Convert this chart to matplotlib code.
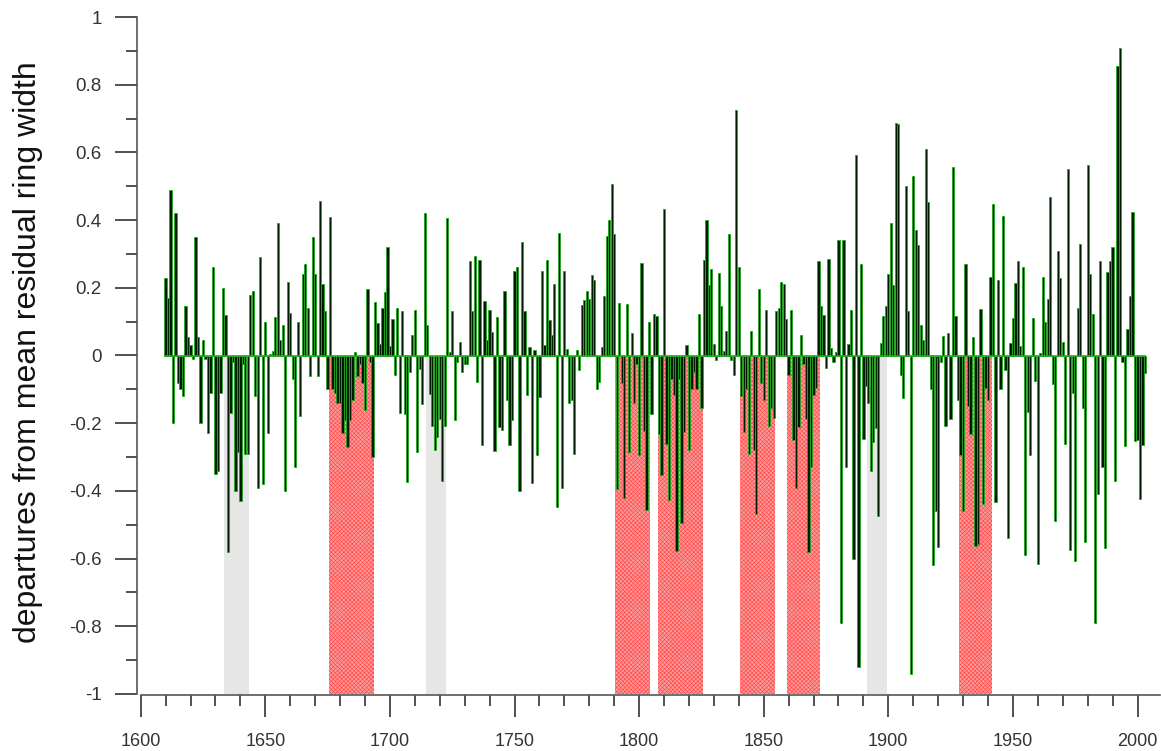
import matplotlib
matplotlib.use("Agg")
import matplotlib.pyplot as plt
from matplotlib.ticker import MultipleLocator, FuncFormatter

plt.rcParams['font.family'] = ['Liberation Sans', 'DejaVu Sans']
plt.rcParams['hatch.linewidth'] = 0.45

# ---- data -------------------------------------------------------------
first_year = 1610
values = [
    # 1610-1619
    0.23, 0.17, 0.49, -0.20, 0.42, -0.08, -0.10, -0.12, 0.145, 0.056,
    # 1620-1629
    0.03, -0.01, 0.35, 0.056, -0.20, 0.047, -0.01, -0.23, -0.11, 0.26,
    # 1630-1639
    -0.35, -0.34, -0.11, 0.20, 0.12, -0.58, -0.17, -0.02, -0.40, -0.285,
    # 1640-1649
    -0.43, -0.025, -0.29, -0.29, 0.18, 0.19, -0.12, -0.39, 0.29, -0.38,
    # 1650-1659
    0.10, -0.23, 0.005, 0.014, 0.115, 0.39, 0.047, 0.09, -0.40, 0.216,
    # 1660-1669
    0.125, -0.07, -0.33, 0.10, -0.18, 0.24, 0.27, 0.14, -0.06, 0.35,
    # 1670-1679
    0.24, -0.06, 0.456, 0.21, 0.13, -0.10, 0.41, -0.10, -0.11, -0.14,
    # 1680-1689
    -0.14, -0.23, -0.19, -0.27, -0.19, -0.13, 0.01, -0.06, -0.025, -0.08,
    # 1690-1699
    -0.16, 0.196, -0.02, -0.30, 0.157, 0.096, 0.034, 0.14, 0.187, 0.32,
    # 1700-1709
    0.027, 0.108, -0.057, 0.14, -0.17, 0.13, -0.174, -0.373, -0.048, 0.062,
    # 1710-1719
    0.133, -0.286, -0.04, -0.144, 0.42, 0.09, -0.113, -0.208, -0.278, -0.24,
    # 1720-1729
    -0.187, -0.37, -0.207, 0.405, 0.01, 0.13, -0.19, -0.02, 0.04, -0.05,
    # 1730-1739
    -0.025, -0.026, 0.28, 0.13, 0.294, -0.077, 0.283, -0.263, 0.16, 0.047,
    # 1740-1749
    0.135, 0.069, -0.282, 0.114, -0.21, -0.22, 0.19, -0.13, -0.265, -0.19,
    # 1750-1759
    0.25, 0.26, -0.40, 0.335, 0.13, -0.117, 0.026, -0.376, 0.017, -0.294,
    # 1760-1769
    -0.122, 0.25, 0.03, 0.283, 0.104, 0.06, 0.21, -0.447, 0.363, -0.39,
    # 1770-1779
    0.25, 0.02, -0.14, -0.13, -0.29, 0.017, -0.044, 0.15, 0.164, 0.19,
    # 1780-1789
    0.168, 0.237, 0.222, -0.10, -0.077, 0.026, 0.177, 0.352, 0.40, 0.506,
    # 1790-1799
    0.36, -0.395, 0.155, -0.08, -0.42, 0.153, -0.285, 0.066, -0.14, -0.025,
    # 1800-1809
    -0.294, 0.274, -0.224, -0.456, 0.10, -0.174, 0.122, 0.118, -0.233, -0.354,
    # 1810-1819
    0.434, -0.26, -0.428, -0.07, -0.116, -0.577, -0.07, -0.495, -0.226, 0.03,
    # 1820-1829
    -0.278, -0.10, -0.05, -0.10, 0.122, -0.155, 0.283, 0.40, 0.207, 0.257,
    # 1830-1839
    0.034, -0.012, 0.244, 0.147, 0.014, 0.073, 0.36, -0.012, -0.057, 0.726,
    # 1840-1849
    0.26, -0.12, -0.226, -0.10, -0.29, 0.073, -0.278, -0.467, 0.195, -0.08,
    # 1850-1859
    -0.13, 0.135, -0.208, -0.155, -0.185, 0.13, 0.14, 0.216, 0.21, 0.108,
    # 1860-1869
    -0.057, 0.135, -0.25, -0.39, -0.21, 0.062, -0.025, -0.187, -0.58, -0.33,
    # 1870-1879
    -0.116, -0.096, 0.28, 0.147, 0.12, -0.038, 0.286, 0.023, -0.018, 0.01,
    # 1880-1889
    0.34, -0.79, 0.34, -0.33, 0.034, 0.135, -0.60, 0.593, -0.92, 0.27,
    # 1890-1899
    -0.248, -0.09, -0.14, -0.34, -0.256, -0.213, -0.473, 0.036, 0.116, 0.147,
    # 1900-1909
    0.242, 0.39, 0.207, 0.688, 0.685, -0.057, -0.125, 0.50, 0.13, -0.94,
    # 1910-1919
    0.53, 0.37, 0.326, 0.09, 0.047, 0.61, 0.454, -0.10, -0.62, -0.46,
    # 1920-1929
    -0.567, -0.02, 0.058, -0.207, 0.066, -0.187, 0.558, 0.116, -0.13, -0.294,
    # 1930-1939
    -0.46, 0.27, -0.148, -0.233, 0.056, -0.564, -0.558, 0.138, -0.438, -0.096,
    # 1940-1949
    -0.13, 0.233, 0.447, -0.434, 0.222, -0.10, 0.413, -0.044, -0.54, 0.036,
    # 1950-1959
    0.112, 0.213, 0.278, 0.027, 0.26, -0.59, -0.168, -0.295, 0.112, -0.074,
    # 1960-1969
    -0.616, 0.008, 0.231, 0.10, 0.166, 0.467, -0.083, -0.49, 0.31, 0.229,
    # 1970-1979
    0.04, -0.26, 0.55, -0.576, -0.11, -0.608, 0.14, 0.33, -0.155, -0.55,
    # 1980-1989
    0.564, 0.242, 0.122, -0.79, -0.41, 0.28, -0.33, -0.57, 0.248, 0.278,
    # 1990-1999
    0.32, -0.37, 0.856, 0.908, -0.02, -0.268, 0.077, 0.177, 0.424, -0.252,
    # 2000-2003
    -0.25, -0.424, -0.263, -0.052,
]
years = list(range(first_year, first_year + len(values)))

red_periods = [(1676, 1693), (1791, 1804), (1808, 1825),
               (1841, 1854), (1860, 1872), (1929, 1941)]
gray_periods = [(1634, 1643), (1715, 1722), (1892, 1899)]

y_label = "departures from mean residual ring width"

# ---- figure -----------------------------------------------------------
W, H = 1161, 751
fig = plt.figure(figsize=(W / 100, H / 100), dpi=100)
ax = fig.add_axes([140.7 / W, 1 - 694 / H, (1160 - 140.7) / W, (694 - 17) / H])

for s, e in gray_periods:
    ax.axvspan(s - 0.5, e + 0.5, ymin=0, ymax=0.5, facecolor='#e6e6e6',
               edgecolor='none', lw=0, zorder=1)
for s, e in red_periods:
    ax.axvspan(s - 0.5, e + 0.5, ymin=0, ymax=0.5, facecolor='#ff9a9a',
               edgecolor='#ff4a4a', hatch='xxxxxxxx', lw=0, zorder=1)

ax.bar(years, values, width=0.9, color='#001c00', edgecolor='#22a822',
       linewidth=0.6, zorder=3)
ax.plot([years[0] - 0.5, years[-1] + 0.5], [0, 0], color='#22a822',
        lw=1.2, zorder=4, solid_capstyle='butt')

ax.set_xlim(1600, 1600 + (1160 - 140.7) / 2.492)
ax.set_ylim(-1, 1)

for side in ('top', 'right'):
    ax.spines[side].set_visible(False)
for side in ('left', 'bottom'):
    ax.spines[side].set_color('#555555')
    ax.spines[side].set_linewidth(1.2)
ax.spines['left'].set_position(('outward', 3))
ax.spines['bottom'].set_position(('outward', 1))

ax.xaxis.set_major_locator(MultipleLocator(50))
ax.xaxis.set_minor_locator(MultipleLocator(10))
ax.yaxis.set_major_locator(MultipleLocator(0.2))
ax.yaxis.set_minor_locator(MultipleLocator(0.1))

def yfmt(v, pos):
    v = round(v, 2)
    if abs(v) < 1e-9:
        return '0'
    return f'{v:g}'

ax.yaxis.set_major_formatter(FuncFormatter(yfmt))
ax.xaxis.set_major_formatter(FuncFormatter(lambda v, p: f'{int(round(v))}'))

ax.tick_params(axis='both', which='both', direction='out', colors='#333333',
               width=1.2)
ax.tick_params(axis='x', which='major', length=16, pad=11, labelsize=13,
               labelcolor='#333333')
ax.tick_params(axis='x', which='minor', length=8)
ax.tick_params(axis='y', which='major', length=16, pad=9, labelsize=13.5,
               labelcolor='#333333')
ax.tick_params(axis='y', which='minor', length=8)

fig.text(28 / W, 1 - 352 / H, y_label, rotation=90, ha='center', va='center',
         fontsize=23, color='#111111')

fig.savefig('out.png', dpi=100)
